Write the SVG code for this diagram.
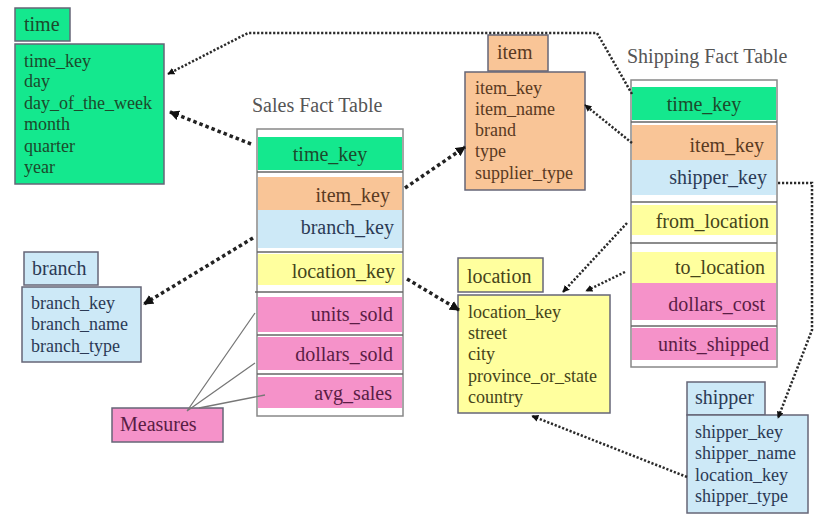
<svg xmlns="http://www.w3.org/2000/svg" width="835" height="525" viewBox="0 0 835 525" font-family="'Liberation Serif', 'Times New Roman', serif">
<defs>
<style>
text{font-family:'Liberation Serif','Times New Roman',serif}
.hd{font-size:20px}
.bd{font-size:18px}
.ft{font-size:20px}
.ttl{font-size:20px;fill:#555}
.g{fill:#14e88e}.o{fill:#f9c597}.b{fill:#cde9f7}.y{fill:#ffff9e}.p{fill:#f592c9}
.box{stroke:#667;stroke-width:1.5}
.tg{fill:#1c4a2c}.to{fill:#5a3a22}.tb{fill:#2b3a55}.ty{fill:#45441a}.tp{fill:#5a1d45}
.r{text-anchor:end}
.sep{stroke:#666;stroke-width:1.5}
.thick{fill:none;stroke:#222;stroke-width:3.5;stroke-dasharray:3.5 3}
.thin{fill:none;stroke:#2a2a2a;stroke-width:2.5;stroke-dasharray:2.2 1.8}
.meas{fill:none;stroke:#777;stroke-width:1.3}
</style>
<marker id="ah" viewBox="0 0 10 10" refX="9" refY="5" markerWidth="10" markerHeight="10" markerUnits="userSpaceOnUse" orient="auto"><path d="M0,0 L10,5 L0,10 z" fill="#111"/></marker>
<marker id="ahs" viewBox="0 0 10 10" refX="9" refY="5" markerWidth="7" markerHeight="7" markerUnits="userSpaceOnUse" orient="auto"><path d="M0,0 L10,5 L0,10 z" fill="#111"/></marker>
</defs>

<g id="time">
<rect class="g box" x="15" y="8" width="55" height="33"/>
<text class="hd tg" x="24" y="31">time</text>
<rect class="g box" x="15" y="44" width="149" height="140"/>
<text class="bd tg" x="24" y="67">time_key</text>
<text class="bd tg" x="24" y="87">day</text>
<text class="bd tg" x="24" y="109">day_of_the_week</text>
<text class="bd tg" x="24" y="130">month</text>
<text class="bd tg" x="24" y="152">quarter</text>
<text class="bd tg" x="24" y="173">year</text>
</g>

<g id="item">
<rect class="o box" x="488" y="35" width="60" height="36"/>
<text class="hd to" x="497" y="59">item</text>
<rect class="o box" x="465" y="72" width="120" height="118"/>
<text class="bd to" x="475" y="94">item_key</text>
<text class="bd to" x="475" y="115">item_name</text>
<text class="bd to" x="475" y="136">brand</text>
<text class="bd to" x="475" y="157">type</text>
<text class="bd to" x="475" y="179">supplier_type</text>
</g>

<g id="branch">
<rect class="b box" x="24" y="252" width="74" height="33"/>
<text class="hd tb" x="32" y="275">branch</text>
<rect class="b box" x="22" y="287" width="119" height="75"/>
<text class="bd tb" x="31" y="309">branch_key</text>
<text class="bd tb" x="31" y="330">branch_name</text>
<text class="bd tb" x="31" y="352">branch_type</text>
</g>

<g id="location">
<rect class="y box" x="458" y="258" width="85" height="34"/>
<text class="hd ty" x="467" y="283">location</text>
<rect class="y box" x="458" y="295" width="152" height="118"/>
<text class="bd ty" x="468" y="318">location_key</text>
<text class="bd ty" x="468" y="339">street</text>
<text class="bd ty" x="468" y="360">city</text>
<text class="bd ty" x="468" y="382">province_or_state</text>
<text class="bd ty" x="468" y="403">country</text>
</g>

<g id="shipper">
<rect class="b box" x="687" y="382" width="78" height="33"/>
<text class="hd tb" x="695" y="404">shipper</text>
<rect class="b box" x="687" y="415" width="121" height="98"/>
<text class="bd tb" x="695" y="438">shipper_key</text>
<text class="bd tb" x="695" y="459">shipper_name</text>
<text class="bd tb" x="695" y="481">location_key</text>
<text class="bd tb" x="695" y="502">shipper_type</text>
</g>

<g id="measures">
<rect class="p box" x="112" y="408" width="111" height="34"/>
<text class="hd tp" x="120" y="431">Measures</text>
</g>

<g id="sales-fact-table">
<text class="ttl" x="252" y="112">Sales Fact Table</text>
<rect x="257" y="129" width="146" height="287" fill="#fff" stroke="#888" stroke-width="1.5"/>
<rect class="g" x="258" y="137" width="144" height="33"/>
<line class="sep" x1="257" y1="172" x2="403" y2="172" stroke="#999"/>
<rect class="o" x="258" y="177" width="144" height="33"/>
<rect class="b" x="258" y="210" width="144" height="38"/>
<line class="sep" x1="257" y1="252" x2="403" y2="252"/>
<rect class="y" x="258" y="254" width="144" height="31"/>
<line class="sep" x1="255" y1="292" x2="403" y2="292" stroke="#888"/>
<rect class="p" x="258" y="297" width="144" height="35"/>
<line class="sep" x1="257" y1="335" x2="403" y2="335"/>
<rect class="p" x="258" y="337" width="144" height="33"/>
<line class="sep" x1="257" y1="374" x2="403" y2="374" stroke="#444"/>
<rect class="p" x="258" y="377" width="144" height="31"/>
<text class="ft tg" x="330" y="161" text-anchor="middle">time_key</text>
<text class="ft to r" x="390" y="202">item_key</text>
<text class="ft tb r" x="394" y="234">branch_key</text>
<text class="ft ty r" x="395" y="278">location_key</text>
<text class="ft tp r" x="393" y="321">units_sold</text>
<text class="ft tp r" x="393" y="361">dollars_sold</text>
<text class="ft tp r" x="392" y="400">avg_sales</text>
</g>

<g id="shipping-fact-table">
<text class="ttl" x="627" y="63">Shipping Fact Table</text>
<rect x="631" y="80" width="146" height="287" fill="#fff" stroke="#888" stroke-width="1.5"/>
<rect class="g" x="632" y="87" width="144" height="33"/>
<line class="sep" x1="631" y1="122" x2="777" y2="122" stroke="#999"/>
<rect class="o" x="632" y="125" width="144" height="35"/>
<rect class="b" x="632" y="160" width="144" height="35"/>
<line class="sep" x1="631" y1="202" x2="777" y2="202"/>
<rect class="y" x="632" y="205" width="144" height="30"/>
<line class="sep" x1="630" y1="243" x2="777" y2="243" stroke="#888"/>
<rect class="y" x="632" y="252" width="144" height="31"/>
<rect class="p" x="632" y="283" width="144" height="37"/>
<line class="sep" x1="631" y1="326" x2="777" y2="326" stroke="#444"/>
<rect class="p" x="632" y="328" width="144" height="32"/>
<text class="ft tg" x="704" y="111" text-anchor="middle">time_key</text>
<text class="ft to r" x="764" y="152">item_key</text>
<text class="ft tb r" x="767" y="184">shipper_key</text>
<text class="ft ty r" x="769" y="228">from_location</text>
<text class="ft ty r" x="765" y="274">to_location</text>
<text class="ft tp r" x="765" y="311">dollars_cost</text>
<text class="ft tp r" x="769" y="351">units_shipped</text>
</g>

<g id="connectors">
<path class="thick" d="M251,144 L170,112" marker-end="url(#ah)"/>
<path class="thin" d="M632,94 L597,33 L248,33 L168,74" marker-end="url(#ahs)"/>
<path class="thick" d="M405,188 L465,147" marker-end="url(#ah)"/>
<path class="thin" d="M632,143 L585,105" marker-end="url(#ahs)"/>
<path class="thick" d="M253,238 L144,304" marker-end="url(#ah)"/>
<path class="thick" d="M407,279 L459,310" marker-end="url(#ah)"/>
<path class="thin" d="M627,223 L563,292" marker-end="url(#ahs)"/>
<path class="thin" d="M625,272 L586,291" marker-end="url(#ahs)"/>
<path class="thin" d="M778,183 L812,183 L812,330 L778,418" marker-end="url(#ahs)"/>
<path class="thin" d="M687,477 L532,416" marker-end="url(#ahs)"/>
<path class="meas" d="M187,411 L255,313 M187,411 L255,363 M199,408 L265,395"/>
</g>
</svg>
